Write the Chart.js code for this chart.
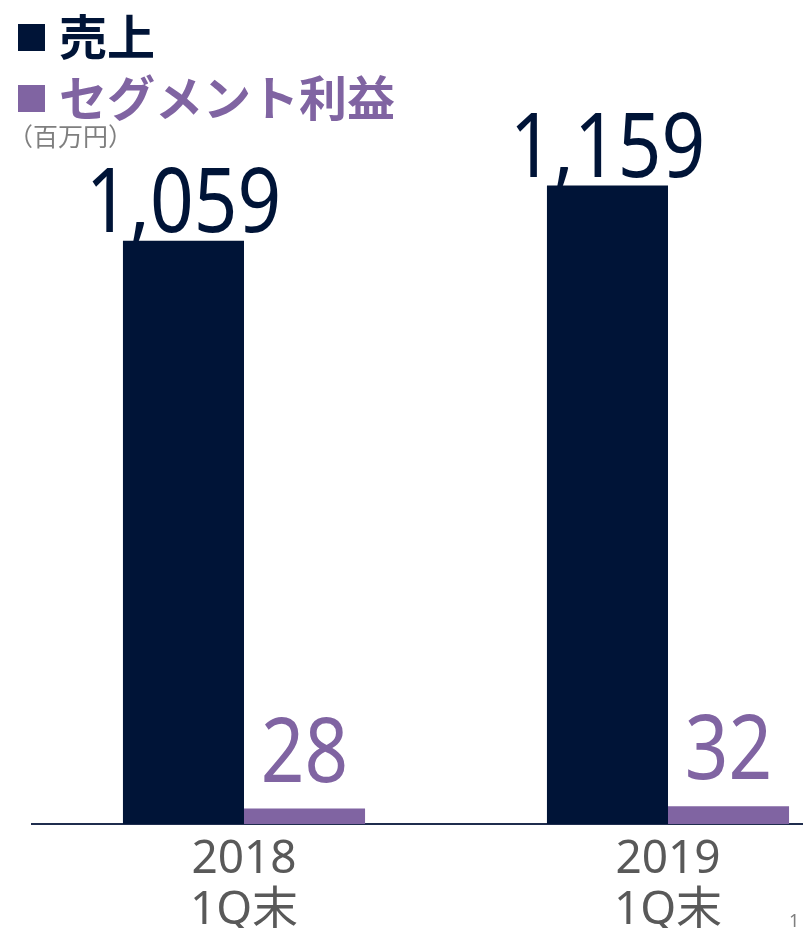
<!DOCTYPE html>
<html>
<head>
<meta charset="utf-8">
<script src="https://cdn.jsdelivr.net/npm/chart.js@4.4.1/dist/chart.umd.min.js"></script>
<style>
  html, body { margin: 0; padding: 0; background: #fff; overflow: hidden; }
  #wrap { position: relative; width: 803px; height: 928px; overflow: hidden; }
  #box { position: absolute; left: 0; top: 0; width: 880px; height: 928px; }
  .leg { position: absolute; left: 18px; font-family: "Noto Sans CJK JP", sans-serif; font-weight: bold; font-size: 48px; line-height: 48px; white-space: nowrap; }
  .leg i { display: inline-block; width: 27px; height: 27px; margin-right: 14px; vertical-align: 4px; }
  #unit { position: absolute; left: 8px; top: 117px; font-family: "Noto Sans CJK JP", sans-serif; font-size: 25px; color: #7f7f7f; }
  #page { position: absolute; left: 789px; top: 908px; font-family: "Noto Sans", sans-serif; font-size: 18px; color: #7f7f7f; }
</style>
</head>
<body>
<div id="wrap">
  <div id="box"><canvas id="salesChart"></canvas></div>
  <div id="legend"></div>
  <div id="unit">（百万円）</div>
  <div id="page">1</div>
</div>
<script>
const categories = [['2018', '1Q末'], ['2019', '1Q末']];
const salesValues = [1059, 1159];
const profitValues = [28, 32];
const seriesNames = ['売上', 'セグメント利益'];

const navy = '#001437';
const purple = '#8064a2';

// value labels above each bar
const valueLabels = {
  id: 'valueLabels',
  afterDatasetsDraw(chart) {
    const ctx = chart.ctx;
    chart.data.datasets.forEach((ds, i) => {
      const meta = chart.getDatasetMeta(i);
      meta.data.forEach((bar, j) => {
        ctx.save();
        ctx.fillStyle = ds.backgroundColor;
        ctx.font = '90px "Noto Sans"';
        ctx.textAlign = 'center';
        ctx.textBaseline = 'alphabetic';
        ctx.translate(bar.x, bar.y - (i === 0 ? 9 : 27));
        ctx.scale(0.85, 1);
        ctx.fillText(ds.data[j].toLocaleString('en-US'), 0, 0);
        ctx.restore();
      });
    });
  }
};

const ctx = document.getElementById('salesChart').getContext('2d');

const chart = new Chart(ctx, {
  type: 'bar',
  data: {
    labels: categories,
    datasets: [{
      label: seriesNames[0],
      data: salesValues,
      backgroundColor: navy
    }, {
      label: seriesNames[1],
      data: profitValues,
      backgroundColor: purple
    }]
  },
  options: {
    responsive: true,
    maintainAspectRatio: false,
    animation: false,
    layout: { padding: { left: 32, right: 0, top: 163, bottom: 0 } },
    datasets: {
      bar: { categoryPercentage: 0.571, barPercentage: 1 }
    },
    plugins: {
      legend: { display: false },
      tooltip: { enabled: false }
    },
    scales: {
      x: {
        grid: { display: false },
        border: { display: true, color: '#1f2d4e', width: 2 },
        ticks: {
          color: '#595959',
          padding: 2,
          font: { family: '"Noto Sans", "Noto Sans CJK JP"', size: 46, lineHeight: 1.12 }
        },
        afterFit: scale => { scale.height = 104; }
      },
      y: {
        display: false,
        min: 0,
        max: 1200
      }
    }
  },
  plugins: [valueLabels]
});

// legend built from the datasets
const legend = document.getElementById('legend');
chart.data.datasets.forEach((ds, i) => {
  const d = document.createElement('div');
  d.className = 'leg';
  d.style.top = (10 + i * 61) + 'px';
  d.style.color = ds.backgroundColor;
  d.innerHTML = '<i style="background:' + ds.backgroundColor + '"></i>' + ds.label;
  legend.appendChild(d);
});
</script>
</body>
</html>
